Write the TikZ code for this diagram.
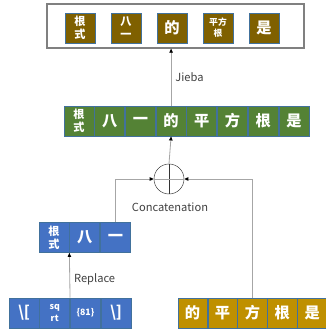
\documentclass[tikz,border=0pt]{standalone}
\usepackage{fontspec}
\setmainfont{Noto Sans CJK SC}
\usetikzlibrary{arrows.meta, positioning}
\definecolor{cellline}{RGB}{65,113,156}
\definecolor{olivecell}{RGB}{127,96,0}
\definecolor{greencell}{RGB}{84,130,53}
\definecolor{bluecell}{RGB}{68,114,196}
\definecolor{goldcell}{RGB}{191,144,0}

\begin{document}
\begin{tikzpicture}[x=0.03cm, y=-0.03cm,
    cell/.style={draw=cellline, line width=0.6pt, text=white, minimum width=0.9cm,
      minimum height=0.9cm, inner sep=0pt, align=center, font=\fontsize{13}{13}\selectfont\bfseries},
    small/.style={font=\fontsize{9.5}{11}\selectfont\bfseries},
    tiny/.style={font=\fontsize{7.5}{9.5}\selectfont\bfseries},
    link/.style={draw=gray!70, line width=0.7pt},
    tip/.style={-{Triangle[length=3.5pt, width=3pt, color=black]}},
    caption/.style={text=black!75, font=\fontsize{9.5}{11}\selectfont}]
    \useasboundingbox (0,0) rectangle (325,332);

    % Jieba output
    \node[draw=gray, line width=1pt, minimum width=7.71cm, minimum height=1.32cm] at (175.5,26) (seg) {};
    \node[cell, fill=olivecell, small] at (80,28) (w1) {根\\式};
    \node[cell, fill=olivecell, small] at (126,28) (w2) {八\\一};
    \node[cell, fill=olivecell] at (172,28) (w3) {的};
    \node[cell, fill=olivecell, tiny] at (218,28) (w4) {平方\\根};
    \node[cell, fill=olivecell] at (264,28) (w5) {是};

    % concatenated sentence
    \node[cell, fill=greencell, small] at (79,121) (g1) {根\\式};
    \node[cell, fill=greencell, right=0pt of g1] (g2) {八};
    \node[cell, fill=greencell, right=0pt of g2] (g3) {一};
    \node[cell, fill=greencell, right=0pt of g3] (g4) {的};
    \node[cell, fill=greencell, right=0pt of g4] (g5) {平};
    \node[cell, fill=greencell, right=0pt of g5] (g6) {方};
    \node[cell, fill=greencell, right=0pt of g6] (g7) {根};
    \node[cell, fill=greencell, right=0pt of g7] (g8) {是};

    % concatenation
    \node[circle, draw=black!80, minimum size=0.9cm, inner sep=0pt] at (169,179) (cat) {};
    \draw[black!80] (cat.north) -- (cat.south);
    \draw[gray!70, line width=0.7pt] (cat.west) -- (cat.east);
    \node[caption] at (170,207) (catlabel) {Concatenation};

    % replaced formula
    \node[cell, fill=bluecell, small] at (54,237.5) (r1) {根\\式};
    \node[cell, fill=bluecell, right=0pt of r1] (r2) {八};
    \node[cell, fill=bluecell, right=0pt of r2] (r3) {一};

    % LaTeX source
    \node[cell, fill=bluecell] at (24,313) (s1) {\textbackslash[};
    \node[cell, fill=bluecell, tiny, right=0pt of s1] (s2) {sq\\rt};
    \node[cell, fill=bluecell, tiny, right=0pt of s2] (s3) {\{81\}};
    \node[cell, fill=bluecell, right=0pt of s3] (s4) {\textbackslash]};

    % remaining text
    \node[cell, fill=goldcell, minimum width=0.876cm] at (192.6,313) (y1) {的};
    \node[cell, fill=goldcell, minimum width=0.876cm, right=0pt of y1] (y2) {平};
    \node[cell, fill=goldcell, minimum width=0.876cm, right=0pt of y2] (y3) {方};
    \node[cell, fill=goldcell, minimum width=0.876cm, right=0pt of y3] (y4) {根};
    \node[cell, fill=goldcell, minimum width=0.876cm, right=0pt of y4] (y5) {是};

    \draw[link, tip] (r3.north) |- (cat.west);
    \draw[link, tip] (y3.north) |- (cat.east);
    \draw[link, tip] (cat.north) -- (g4.south);
    \draw[link, tip] (g4.north) -- node[caption, right, pos=0.5] {Jieba} (g4.north |- seg.south);
    \draw[link, tip] (s2.north east) -- node[caption, right, pos=0.4] {Replace} (r1.south east);
\end{tikzpicture}
\end{document}
